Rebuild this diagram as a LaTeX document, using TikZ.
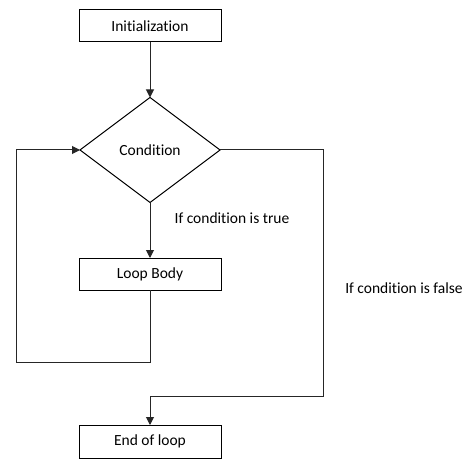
\documentclass[tikz,border=0pt]{standalone}
\usepackage{fontspec}
\setmainfont{Carlito}[Ligatures={NoCommon,NoContextual}]
\usetikzlibrary{shapes.geometric,arrows.meta}
\begin{document}
\begin{tikzpicture}[x=1pt,y=-1pt,
  every node/.style={font=\fontsize{15.5}{18}\selectfont},
  stepbox/.style={draw,line width=1pt,rectangle,minimum width=142pt,minimum height=32pt,inner sep=0pt,outer sep=0pt},
  decision/.style={draw,line width=1pt,diamond,minimum width=140pt,minimum height=105pt,inner sep=0pt,outer sep=0pt},
  conn/.style={line width=1pt,draw=black!85},
  arr/.style={conn,-{Triangle[length=8pt,width=8pt]}},
  lbl/.style={inner sep=0pt}]
\useasboundingbox (0,0) rectangle (476,462);
\node[stepbox] (init) at (150,26) {\raisebox{-1pt}{Initialization}};
\node[decision] (cond) at (150,150) {\raisebox{-1.5pt}{Condition}};
\node[stepbox] (body) at (150,274) {\raisebox{-1pt}{Loop Body}};
\node[stepbox,minimum height=33pt] (end) at (150,441.5) {\raisebox{-1pt}{End of loop}};
\node[lbl] (tlab) at (232,218) {If condition is true};
\node[lbl] (flab) at (404,288) {If condition is false};
\coordinate (lb) at (16,362);
\coordinate (rt) at (323,396);
\draw[arr] (init) -- (cond);
\draw[arr] (cond) -- (body);
\draw[arr] (body.south) |- (lb) |- (cond.west);
\draw[arr] (cond.east) -| (rt) -| (end.north);
\end{tikzpicture}
\end{document}
